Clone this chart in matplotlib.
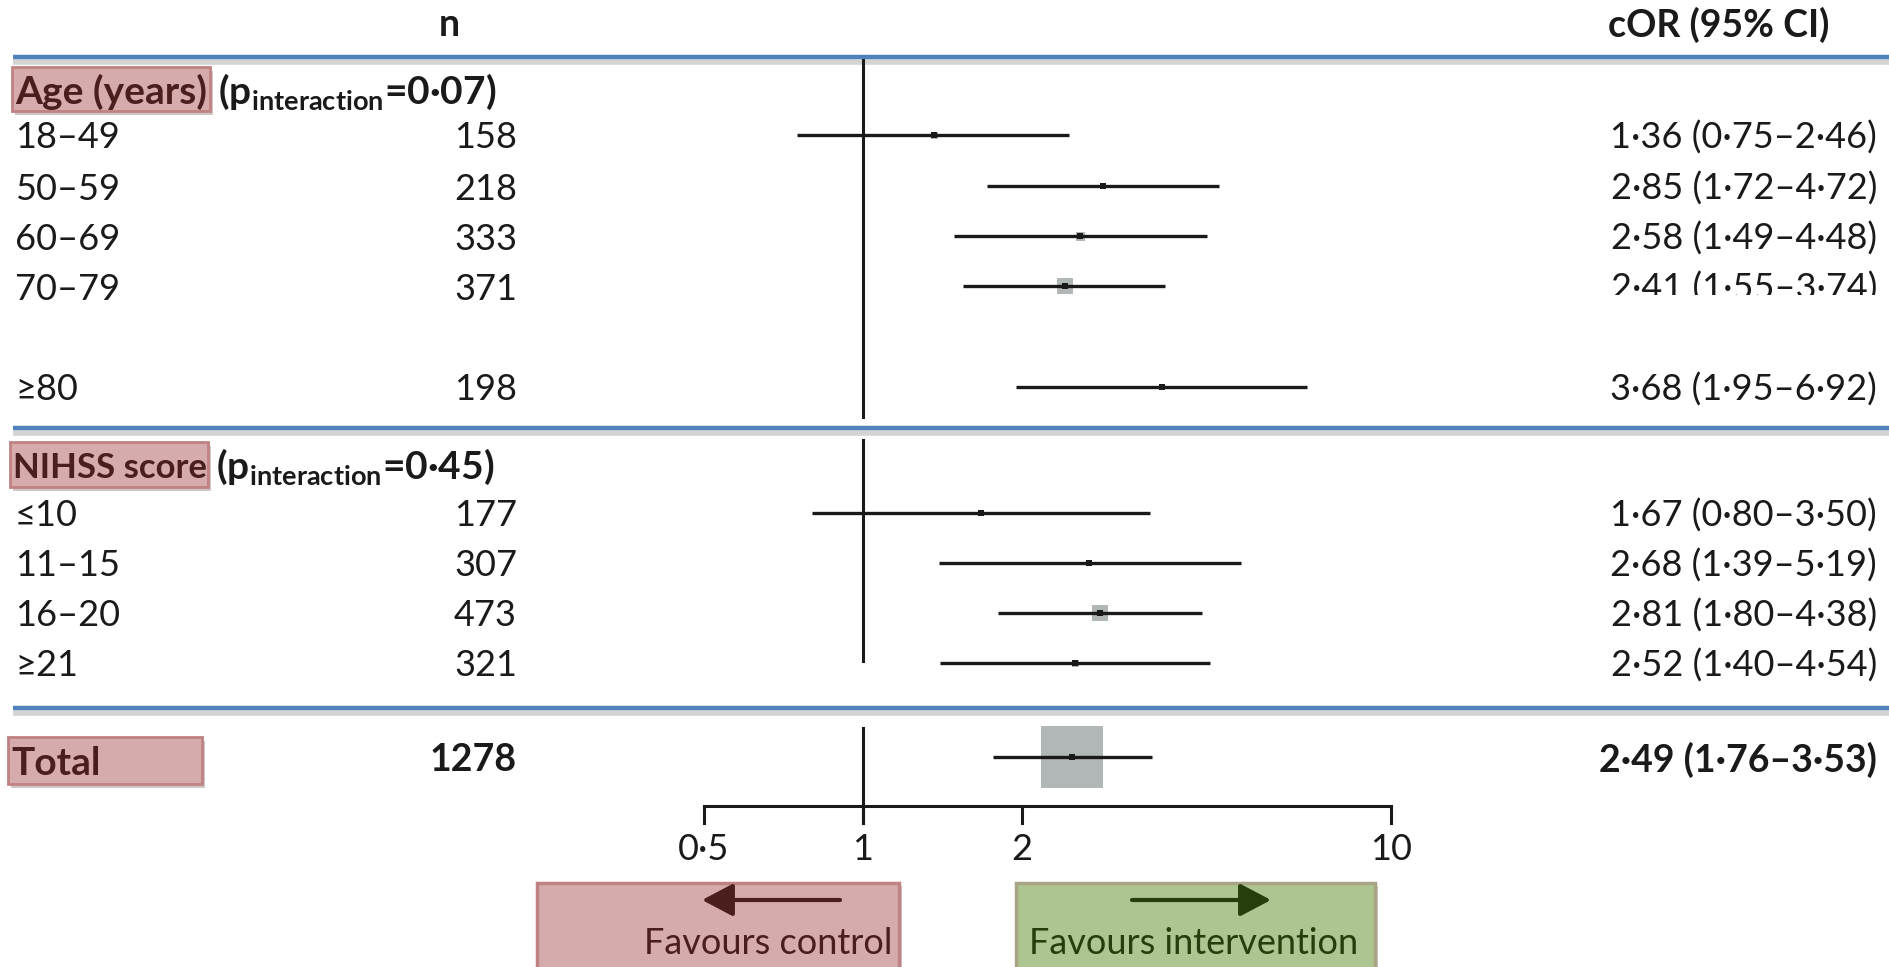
import matplotlib.pyplot as plt
from matplotlib.patches import Rectangle

plt.rcParams['font.family'] = ['Lato', 'DejaVu Sans']
plt.rcParams['mathtext.fontset'] = 'custom'
plt.rcParams['mathtext.rm'] = 'Lato'
plt.rcParams['mathtext.bf'] = 'Lato:bold'

# data
age_labels = ['18–49', '50–59', '60–69', '70–79', '≥80']
age_n = [158, 218, 333, 371, 198]
age_or = [1.36, 2.85, 2.58, 2.41, 3.68]
age_lo = [0.75, 1.72, 1.49, 1.55, 1.95]
age_hi = [2.46, 4.72, 4.48, 3.74, 6.92]
age_box = [7, 5, 9, 16, 4]
p_age = '0·07'

nihss_labels = ['≤10', '11–15', '16–20', '≥21']
nihss_n = [177, 307, 473, 321]
nihss_or = [1.67, 2.68, 2.81, 2.52]
nihss_lo = [0.80, 1.39, 1.80, 1.40]
nihss_hi = [3.50, 5.19, 4.38, 4.54]
nihss_box = [4, 6, 16, 7]
p_nihss = '0·45'

total_n = 1278
total_or = 2.49
total_lo = 1.76
total_hi = 3.53
total_box = 62

xticks = [0.5, 1, 2, 10]
xtick_labels = ['0·5', '1', '2', '10']

# layout (pixels)
W, H = 1889, 967
one_px, decade_px = 863, 528
y_age = [135, 186, 236, 286, 387]
y_nihss = [513, 563, 613, 663]
y_total = 757
y_axis = 806
x_label, x_n, x_ci = 15, 517, 1877
DY = 3  # text nudge so glyphs sit like the reference
FS = 26
INK = '#1a1a1a'
BLUE = '#4f81bd'
GRAY = '#b1b6b6'
RED_TXT = '#4b1e1e'
GREEN_TXT = '#263d0d'


def fmt(v):
    return f'{v:.2f}'.replace('.', '·')


def ci_text(o, lo, hi):
    return f'{fmt(o)} ({fmt(lo)}–{fmt(hi)})'


fig = plt.figure(figsize=(W / 100, H / 100), dpi=100)
ax = fig.add_axes([0, 0, 1, 1])
ax.set_xlim(0, W)
ax.set_ylim(H, 0)
ax.axis('off')

fx = fig.add_axes([0, 0, 1, 1])
fx.set_xscale('log')
fx.set_xlim(10 ** (-one_px / decade_px), 10 ** ((W - one_px) / decade_px))
fx.set_ylim(H, 0)
fx.axis('off')
fx.patch.set_visible(False)


def label_box(x0, y0, x1, y1, text, fs):
    ax.add_patch(Rectangle((x0 + 3, y0 + 4), x1 - x0, y1 - y0, color='#cfc6c6', lw=0, zorder=1))
    ax.add_patch(Rectangle((x0, y0), x1 - x0, y1 - y0, facecolor='#d5abab',
                           edgecolor='#c08282', lw=2, zorder=2))
    ax.text(x0 + 3, (y0 + y1) / 2 + DY, text, fontsize=fs, fontweight='bold',
            color=RED_TXT, va='center', ha='left', zorder=3)


def blue_line(y):
    ax.plot([13, W], [y + 5, y + 5], color='#d4d4d4', lw=4, solid_capstyle='butt', zorder=1)
    ax.plot([13, W], [y, y], color=BLUE, lw=3.2, solid_capstyle='butt', zorder=2)


# header
ax.text(449, 25, 'n', fontsize=FS + 1, fontweight='bold', ha='center', va='center', color=INK)
ax.text(1719, 25, 'cOR (95% CI)', fontsize=FS + 1, fontweight='bold', ha='center', va='center', color=INK)
blue_line(57)
blue_line(428)
blue_line(708)

# section headers
label_box(12, 67, 210, 111, 'Age (years)', 28)
ax.text(218, 89 + DY, r'(p$_{\mathbf{interaction}}$=' + p_age + ')', fontsize=FS + 2,
        fontweight='bold', ha='left', va='center', color=INK)
label_box(10, 442, 208, 487, 'NIHSS score', 25)
ax.text(216, 464 + DY, r'(p$_{\mathbf{interaction}}$=' + p_nihss + ')', fontsize=FS + 2,
        fontweight='bold', ha='left', va='center', color=INK)
label_box(8, 737, 202, 784, 'Total', 28)


def rows(labels, ns, ors, los, his, boxes, ys):
    for lab, n, o, lo, hi, b, y in zip(labels, ns, ors, los, his, boxes, ys):
        ax.text(x_label, y + DY, lab, fontsize=FS, ha='left', va='center', color=INK)
        ax.text(x_n, y + DY, str(n), fontsize=FS, ha='right', va='center', color=INK)
        ax.text(x_ci, y + DY, ci_text(o, lo, hi), fontsize=FS, ha='right', va='center', color=INK)
        if lab == '70–79':
            # the source figure cuts this label off at the bottom
            ax.add_patch(Rectangle((1580, y + 9), 309, 16, color='white', lw=0, zorder=5))
        fx.plot([lo, hi], [y, y], color=INK, lw=2.4, solid_capstyle='butt', zorder=3)
        fx.plot([o], [y], marker='s', ms=b * 0.72, color=GRAY, mew=0, zorder=2)
        fx.plot([o], [y], marker='s', ms=4.2, color=INK, mew=0, zorder=4)


rows(age_labels, age_n, age_or, age_lo, age_hi, age_box, y_age)
rows(nihss_labels, nihss_n, nihss_or, nihss_lo, nihss_hi, nihss_box, y_nihss)

# total
ax.text(x_n, y_total + DY, str(total_n), fontsize=FS + 1, fontweight='bold', ha='right', va='center', color=INK)
ax.text(x_ci, y_total + DY, ci_text(total_or, total_lo, total_hi), fontsize=FS + 1,
        fontweight='bold', ha='right', va='center', color=INK)
fx.plot([total_or], [y_total], marker='s', ms=total_box * 0.72, color=GRAY, mew=0, zorder=2)
fx.plot([total_lo, total_hi], [y_total, y_total], color=INK, lw=2.4, solid_capstyle='butt', zorder=3)
fx.plot([total_or], [y_total], marker='s', ms=4.2, color=INK, mew=0, zorder=4)

# reference line at 1
for y0, y1 in [(60, 417), (440, 661), (728, 823)]:
    fx.plot([1, 1], [y0, y1], color=INK, lw=2.2, zorder=1)

# x axis
fx.plot([xticks[0], xticks[-1]], [y_axis, y_axis], color=INK, lw=2.2, solid_capstyle='projecting')
for v, s in zip(xticks, xtick_labels):
    fx.plot([v, v], [y_axis, y_axis + 17], color=INK, lw=2.2)
    fx.text(v, 846 + DY, s, fontsize=FS, ha='center', va='center', color=INK)

# favours boxes
arrow = '-|>,head_length=1.9,head_width=1.0'
ax.add_patch(Rectangle((540, 886), 362, 90, color='#cfc6c6', lw=0, zorder=1))
ax.add_patch(Rectangle((537, 883), 362, 90, facecolor='#d5abab', edgecolor='#c08282', lw=2.5, zorder=2))
ax.annotate('', xy=(702, 900), xytext=(840, 900),
            arrowprops=dict(arrowstyle=arrow, color=RED_TXT, lw=3, shrinkA=0, shrinkB=0),
            zorder=3)
ax.text(892, 944, 'Favours control', fontsize=FS, ha='right', va='center', color=RED_TXT, zorder=3)

ax.add_patch(Rectangle((1019, 886), 359, 90, color='#cfc6c6', lw=0, zorder=1))
ax.add_patch(Rectangle((1016, 883), 359, 90, facecolor='#adc591', edgecolor='#a9a486', lw=2.5, zorder=2))
ax.annotate('', xy=(1271, 900), xytext=(1132, 900),
            arrowprops=dict(arrowstyle=arrow, color=GREEN_TXT, lw=3, shrinkA=0, shrinkB=0),
            zorder=3)
ax.text(1194, 944, 'Favours intervention', fontsize=FS, ha='center', va='center', color=GREEN_TXT, zorder=3)

fig.savefig('out.png', dpi=100)
